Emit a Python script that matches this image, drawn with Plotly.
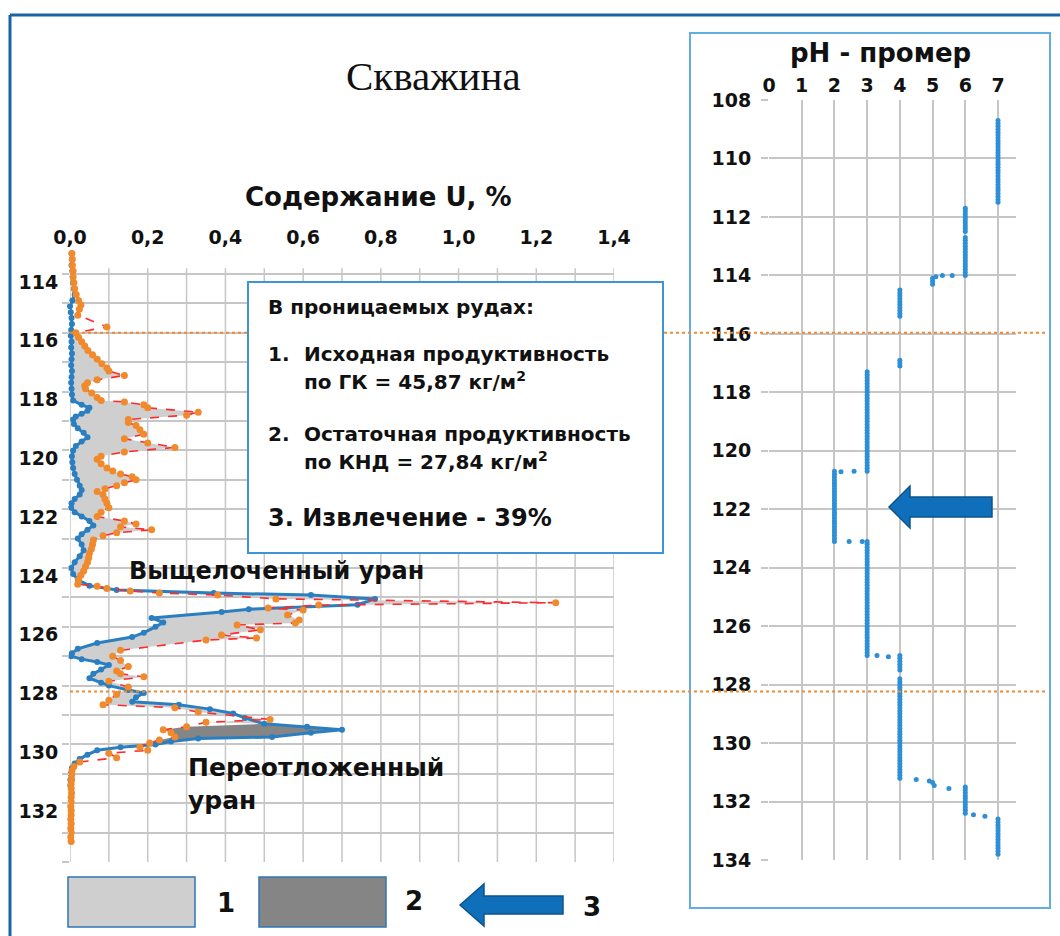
import numpy as np
import plotly.graph_objects as go

# Содержание U по глубине: ГК (исходное) и КНД (остаточное)
gk_depth = [113.3, 113.5, 113.7, 113.9, 114.1, 114.3, 114.5, 114.7, 114.9, 115.1,
            115.3, 115.5, 115.7, 115.9, 116.1, 116.3, 116.5, 116.7, 116.9, 117.1,
            117.3, 117.5, 117.7, 117.9, 118.1, 118.3, 118.45, 118.55, 118.65, 118.75,
            118.85, 118.95, 119.1, 119.25, 119.4, 119.55, 119.7, 119.85, 120.0, 120.2,
            120.4, 120.6, 120.8, 121.0, 121.2, 121.35, 121.5, 121.65, 121.8, 121.95,
            122.1, 122.25, 122.4, 122.55, 122.7, 122.85, 123.0, 123.2, 123.4, 123.6,
            123.8, 124.0, 124.2, 124.4, 124.6, 124.75, 124.85, 124.92, 125.05, 125.25,
            125.4, 125.5, 125.7, 125.85, 126.0, 126.2, 126.35, 126.55, 126.75, 126.9,
            127.0, 127.1, 127.2, 127.3, 127.45, 127.6, 127.75, 127.9, 128.0, 128.15,
            128.25, 128.4, 128.55, 128.65, 128.8, 128.95, 129.1, 129.3, 129.4, 129.5,
            129.6, 129.75, 129.8, 129.9, 130.0, 130.1, 130.2, 130.35, 130.5, 130.65,
            130.8, 131.0, 131.2, 131.4]
gk_u = [0.004, 0.005, 0.004, 0.006, 0.007, 0.008, 0.010, 0.012, 0.006, 0.000,
        0.002, 0.004, 0.005, 0.003, 0.002, 0.004, 0.003, 0.005, 0.004, 0.003,
        0.005, 0.004, 0.003, 0.004, 0.005, 0.008, 0.030, 0.050, 0.045, 0.030,
        0.015, 0.008, 0.010, 0.020, 0.035, 0.045, 0.030, 0.015, 0.008, 0.005,
        0.006, 0.008, 0.012, 0.018, 0.025, 0.030, 0.025, 0.012, 0.004, 0.003,
        0.012, 0.030, 0.050, 0.060, 0.045, 0.030, 0.020, 0.030, 0.035, 0.025,
        0.012, 0.003, 0.008, 0.020, 0.050, 0.120, 0.370, 0.620, 0.785, 0.740,
        0.460, 0.390, 0.210, 0.240, 0.220, 0.190, 0.160, 0.070, 0.020, 0.005,
        0.003, 0.030, 0.070, 0.100, 0.080, 0.060, 0.050, 0.080, 0.100, 0.150,
        0.190, 0.170, 0.160, 0.280, 0.360, 0.420, 0.450, 0.500, 0.610, 0.700,
        0.620, 0.520, 0.330, 0.260, 0.220, 0.130, 0.070, 0.045, 0.025, 0.012,
        0.005, 0.002, 0.001, 0.001]

knd_depth = [113.3, 113.5, 113.7, 113.9, 114.1, 114.3, 114.5, 114.7, 114.9, 115.05,
             115.2, 115.4, 115.8, 116.0, 116.15, 116.3, 116.45, 116.6, 116.75, 116.9,
             117.05, 117.2, 117.3, 117.45, 117.6, 117.7, 117.8, 117.9, 118.05, 118.2,
             118.3, 118.35, 118.45, 118.55, 118.7, 118.8, 118.95, 119.05, 119.15, 119.3,
             119.45, 119.6, 119.75, 119.9, 120.05, 120.2, 120.3, 120.45, 120.6, 120.7,
             120.8, 120.9, 121.0, 121.1, 121.2, 121.3, 121.4, 121.5, 121.65, 121.8,
             121.95, 122.1, 122.25, 122.4, 122.5, 122.6, 122.7, 122.8, 122.9, 123.05,
             123.2, 123.35, 123.5, 123.65, 123.8, 123.95, 124.1, 124.25, 124.4, 124.55,
             124.62, 124.7, 124.78, 124.85, 124.92, 125.05, 125.18, 125.26, 125.36, 125.43,
             125.6, 125.77, 125.87, 125.94, 126.1, 126.28, 126.38, 126.45, 126.8, 127.0,
             127.15, 127.35, 127.5, 127.6, 127.7, 127.85, 128.05, 128.3, 128.5, 128.65,
             128.75, 128.9, 129.15, 129.25, 129.4, 129.5, 129.6, 129.75, 129.85, 129.95,
             130.1, 130.2, 130.3, 130.45, 130.6, 130.75, 130.9, 131.05, 131.2, 131.35,
             131.5, 131.65, 131.8, 131.95, 132.1, 132.25, 132.4, 132.55, 132.7, 132.85,
             133.0, 133.15, 133.3]
knd_u = [0.005, 0.006, 0.006, 0.008, 0.008, 0.010, 0.012, 0.016, 0.022, 0.028,
         0.024, 0.020, 0.095, 0.015, 0.022, 0.030, 0.038, 0.046, 0.058, 0.070,
         0.082, 0.095, 0.100, 0.140, 0.070, 0.045, 0.038, 0.040, 0.056, 0.070,
         0.080, 0.140, 0.190, 0.200, 0.330, 0.300, 0.150, 0.150, 0.170, 0.180,
         0.190, 0.140, 0.200, 0.270, 0.140, 0.080, 0.070, 0.080, 0.095, 0.110,
         0.130, 0.160, 0.170, 0.140, 0.120, 0.090, 0.070, 0.085, 0.090, 0.095,
         0.100, 0.080, 0.070, 0.140, 0.170, 0.130, 0.210, 0.120, 0.085, 0.060,
         0.058, 0.055, 0.050, 0.048, 0.045, 0.040, 0.035, 0.028, 0.022, 0.020,
         0.070, 0.095, 0.155, 0.230, 0.380, 0.530, 1.250, 0.640, 0.510, 0.600,
         0.560, 0.590, 0.580, 0.430, 0.490, 0.390, 0.480, 0.350, 0.130, 0.110,
         0.130, 0.150, 0.120, 0.130, 0.190, 0.100, 0.150, 0.120, 0.100, 0.085,
         0.270, 0.330, 0.515, 0.350, 0.300, 0.240, 0.260, 0.270, 0.230, 0.205,
         0.180, 0.200, 0.100, 0.120, 0.025, 0.010, 0.005, 0.004, 0.004, 0.003,
         0.003, 0.004, 0.003, 0.003, 0.002, 0.003, 0.003, 0.002, 0.003, 0.002,
         0.003, 0.002, 0.003]

# pH - промер
ph_depth = [108.7, 108.8, 108.9, 109.0, 109.1, 109.2, 109.3, 109.4, 109.5, 109.6,
            109.7, 109.8, 109.9, 110.0, 110.1, 110.2, 110.3, 110.4, 110.5, 110.6,
            110.7, 110.8, 110.9, 111.0, 111.1, 111.2, 111.3, 111.4, 111.5,
            111.7, 111.8, 111.9, 112.0, 112.1, 112.2, 112.3, 112.4, 112.5,
            112.7, 112.8, 112.9, 113.0, 113.1, 113.2, 113.3, 113.4, 113.5, 113.6,
            113.7, 113.8, 113.9, 114.0,
            114.0, 114.0, 114.05, 114.1, 114.2, 114.3,
            114.5, 114.6, 114.7, 114.8, 114.9, 115.0, 115.1, 115.2, 115.3, 115.4,
            116.9, 117.0, 117.1,
            117.3, 117.4, 117.5, 117.6, 117.7, 117.8, 117.9, 118.0, 118.1, 118.2,
            118.3, 118.4, 118.5, 118.6, 118.7, 118.8, 118.9, 119.0, 119.1, 119.2,
            119.3, 119.4, 119.5, 119.6, 119.7, 119.8, 119.9, 120.0, 120.1, 120.2,
            120.3, 120.4, 120.5, 120.6, 120.7,
            120.7, 120.72,
            120.7, 120.8, 120.9, 121.0, 121.1, 121.2, 121.3, 121.4, 121.5, 121.6,
            121.7, 121.8, 121.9, 122.0, 122.1, 122.2, 122.3, 122.4, 122.5, 122.6,
            122.7, 122.8, 122.9, 123.0, 123.1,
            123.1, 123.1,
            123.1, 123.2, 123.3, 123.4, 123.5, 123.6, 123.7, 123.8, 123.9, 124.0,
            124.1, 124.2, 124.3, 124.4, 124.5, 124.6, 124.7, 124.8, 124.9, 125.0,
            125.1, 125.2, 125.3, 125.4, 125.5, 125.6, 125.7, 125.8, 125.9, 126.0,
            126.1, 126.2, 126.3, 126.4, 126.5, 126.6, 126.7, 126.8, 126.9, 127.0,
            127.0, 127.05,
            127.0, 127.1, 127.2, 127.3, 127.4, 127.5,
            127.8, 127.9, 128.0, 128.1, 128.2, 128.3, 128.4, 128.5, 128.6, 128.7,
            128.8, 128.9, 129.0, 129.1, 129.2, 129.3, 129.4, 129.5, 129.6, 129.7,
            129.8, 129.9, 130.0, 130.1, 130.2, 130.3, 130.4, 130.5, 130.6, 130.7,
            130.8, 130.9, 131.0, 131.1, 131.2,
            131.25, 131.3, 131.35, 131.45, 131.55,
            131.5, 131.6, 131.7, 131.8, 131.9, 132.0, 132.1, 132.2, 132.3, 132.4,
            132.45, 132.5,
            132.6, 132.7, 132.8, 132.9, 133.0, 133.1, 133.2, 133.3, 133.4, 133.5,
            133.6, 133.7, 133.8]
ph_value = [7, 7, 7, 7, 7, 7, 7, 7, 7, 7,
            7, 7, 7, 7, 7, 7, 7, 7, 7, 7,
            7, 7, 7, 7, 7, 7, 7, 7, 7,
            6, 6, 6, 6, 6, 6, 6, 6, 6,
            6, 6, 6, 6, 6, 6, 6, 6, 6, 6,
            6, 6, 6, 6,
            5.6, 5.3, 5.1, 5.0, 5.0, 5.0,
            4, 4, 4, 4, 4, 4, 4, 4, 4, 4,
            4, 4, 4,
            3, 3, 3, 3, 3, 3, 3, 3, 3, 3,
            3, 3, 3, 3, 3, 3, 3, 3, 3, 3,
            3, 3, 3, 3, 3, 3, 3, 3, 3, 3,
            3, 3, 3, 3, 3,
            2.6, 2.2,
            2, 2, 2, 2, 2, 2, 2, 2, 2, 2,
            2, 2, 2, 2, 2, 2, 2, 2, 2, 2,
            2, 2, 2, 2, 2,
            2.45, 2.85,
            3, 3, 3, 3, 3, 3, 3, 3, 3, 3,
            3, 3, 3, 3, 3, 3, 3, 3, 3, 3,
            3, 3, 3, 3, 3, 3, 3, 3, 3, 3,
            3, 3, 3, 3, 3, 3, 3, 3, 3, 3,
            3.3, 3.65,
            4, 4, 4, 4, 4, 4,
            4, 4, 4, 4, 4, 4, 4, 4, 4, 4,
            4, 4, 4, 4, 4, 4, 4, 4, 4, 4,
            4, 4, 4, 4, 4, 4, 4, 4, 4, 4,
            4, 4, 4, 4, 4,
            4.5, 4.9, 5.0, 5.05, 5.5,
            6, 6, 6, 6, 6, 6, 6, 6, 6, 6,
            6.25, 6.6,
            7, 7, 7, 7, 7, 7, 7, 7, 7, 7,
            7, 7, 7]

u_ticks = [0.0, 0.2, 0.4, 0.6, 0.8, 1.0, 1.2, 1.4]
u_grid = [0.0, 0.1, 0.2, 0.3, 0.4, 0.5, 0.6, 0.7, 0.8, 0.9, 1.0, 1.1, 1.2, 1.3, 1.4]
depth_ticks = [114, 116, 118, 120, 122, 124, 126, 128, 130, 132]
ph_ticks = [0, 1, 2, 3, 4, 5, 6, 7]
leach_zone = (116.0, 129.3)     # выщелоченный уран
redep_zone = (129.3, 130.1)     # переотложенный уран
ore_bounds = [116.0, 128.2]     # границы проницаемых руд

W, H = 1060, 936
BLUE = "#2b7fc1"
ORANGE = "#f08a2c"
GRID = "#c6c6c6"
TXT = "#111111"
FONT = "DejaVu Sans"


def fx(p):
    return p / W


def fy(p):
    return 1 - p / H


gd, gu = np.array(gk_depth), np.array(gk_u)
kd, ku = np.array(knd_depth), np.array(knd_u)


def zone(lo, hi):
    g = (gd >= lo) & (gd <= hi)
    k = (kd >= lo) & (kd <= hi)
    return np.r_[gu[g], ku[k][::-1]], np.r_[gd[g], kd[k][::-1]]


fig = go.Figure()

for (lo, hi), color in [(leach_zone, "#cfcfcf"), (redep_zone, "#858585")]:
    zx, zy = zone(lo, hi)
    fig.add_trace(go.Scatter(x=zx, y=zy, fill="toself", fillcolor=color, mode="lines",
                             line=dict(width=0), hoverinfo="skip"))

fig.add_trace(go.Scatter(
    x=gk_u, y=gk_depth, mode="lines+markers", name="ГК",
    line=dict(color=BLUE, width=3), marker=dict(color=BLUE, size=6), cliponaxis=False,
))
fig.add_trace(go.Scatter(
    x=knd_u, y=knd_depth, mode="lines+markers", name="КНД",
    line=dict(color="#ff2a2a", width=1.6, dash="dash"),
    marker=dict(color=ORANGE, size=7), cliponaxis=False,
))
fig.add_trace(go.Scatter(
    x=ph_value, y=ph_depth, mode="markers", name="pH", xaxis="x2", yaxis="y2",
    marker=dict(color="#2e8fd6", size=5), cliponaxis=False,
))

tick_font = dict(family=FONT, size=19, color=TXT, weight="bold")

fig.update_layout(
    width=W, height=H,
    margin=dict(l=0, r=0, t=0, b=0, autoexpand=False),
    paper_bgcolor="white", plot_bgcolor="white",
    showlegend=False,
    separators=", ",
    font=dict(family=FONT, color=TXT),
    xaxis=dict(domain=[fx(70), fx(614)], range=[0, 1.4], side="top", anchor="y",
               automargin=False,
               tickvals=u_ticks, tickformat=".1f", showgrid=False, zeroline=False,
               ticks="", tickfont=tick_font, ticklabelstandoff=2),
    yaxis=dict(domain=[fy(862), fy(250.5)], range=[134, 113.2], anchor="x",
               automargin=False,
               tickvals=depth_ticks, showgrid=True, gridcolor=GRID, gridwidth=1.5,
               zeroline=False, ticks="outside", ticklen=7, tickcolor=GRID, tickwidth=1.5,
               tickfont=tick_font, ticklabelshift=-8,
               minor=dict(tick0=114, dtick=1, showgrid=True, gridcolor=GRID, gridwidth=1.5,
                          ticks="outside", ticklen=7, tickcolor=GRID, tickwidth=1.5)),
    xaxis2=dict(domain=[fx(769), fx(1016)], range=[0, 7.55], side="top", anchor="y2",
                automargin=False,
                tickvals=ph_ticks, showgrid=True, gridcolor=GRID, gridwidth=1.5,
                zeroline=False, ticks="", tickfont=tick_font, ticklabelstandoff=3),
    yaxis2=dict(domain=[fy(860), fy(100)], range=[134, 108], anchor="x2",
                automargin=False,
                tick0=108, dtick=2, showgrid=True, gridcolor=GRID, gridwidth=1.5,
                zeroline=False, ticks="outside", ticklen=7, tickcolor=GRID, tickwidth=1.5,
                tickfont=tick_font, ticklabelstandoff=6),
)

shapes = []
for u in u_grid:
    shapes.append(dict(type="line", xref="x", yref="y", x0=u, x1=u, y0=113.8, y1=134,
                       line=dict(color=GRID, width=1.5), layer="below"))

# рамки
shapes.append(dict(type="line", xref="paper", yref="paper", x0=fx(10), x1=1, y0=fy(15), y1=fy(15),
                   line=dict(color="#1a62a6", width=3)))
shapes.append(dict(type="line", xref="paper", yref="paper", x0=fx(10), x1=fx(10), y0=fy(15), y1=0,
                   line=dict(color="#1a62a6", width=3)))
shapes.append(dict(type="rect", xref="paper", yref="paper", x0=fx(690), x1=fx(1050),
                   y0=fy(908), y1=fy(33), line=dict(color="#62aee3", width=2)))

for d in ore_bounds:
    shapes.append(dict(type="line", xref="paper", yref="y", x0=fx(70), x1=fx(1045), y0=d, y1=d,
                       line=dict(color=ORANGE, width=2, dash="dot")))

# блок с результатами
shapes.append(dict(type="rect", xref="paper", yref="paper", x0=fx(248), x1=fx(663),
                   y0=fy(553), y1=fy(282), fillcolor="white", line=dict(color="#3d94d6", width=2)))

# легенда
shapes.append(dict(type="rect", xref="paper", yref="paper", x0=fx(68), x1=fx(195),
                   y0=fy(927), y1=fy(877), fillcolor="#cfcfcf", line=dict(color="#2f75b5", width=1.5)))
shapes.append(dict(type="rect", xref="paper", yref="paper", x0=fx(259), x1=fx(386),
                   y0=fy(927), y1=fy(877), fillcolor="#858585", line=dict(color="#2f75b5", width=1.5)))


def arrow(tip, cy, back, end, head, shaft):
    pts = [(tip, cy), (back, cy - head), (back, cy - shaft), (end, cy - shaft),
           (end, cy + shaft), (back, cy + shaft), (back, cy + head)]
    path = "M " + " L ".join(f"{fx(x):.5f},{fy(y):.5f}" for x, y in pts) + " Z"
    return dict(type="path", xref="paper", yref="paper", path=path,
                fillcolor="#0f6fba", line=dict(color="#0b558f", width=1.5))


shapes.append(arrow(889, 507, 910, 992, 21, 10))
shapes.append(arrow(460, 905, 484, 563, 21, 9))

fig.update_layout(shapes=shapes)


def label(text, x, y, size, anchor="left", family=FONT, weight="bold"):
    return dict(text=text, x=fx(x), y=fy(y), xref="paper", yref="paper",
                xanchor=anchor, yanchor="middle", showarrow=False,
                font=dict(family=family, size=size, color=TXT, weight=weight))


fig.update_layout(annotations=[
    label("Скважина", 433, 76, 41, "center", "Liberation Serif", "normal"),
    label("Содержание U, %", 378, 197, 26, "center"),
    label("pH - промер", 880, 53, 26, "center"),
    label("В проницаемых рудах:", 266, 307, 20),
    label("1.", 266, 354, 20),
    label("Исходная продуктивность", 302, 354, 20),
    label("по ГК = 45,87 кг/м<sup>2</sup>", 302, 381, 20),
    label("2.", 266, 434, 20),
    label("Остаточная продуктивность", 302, 434, 20),
    label("по КНД = 27,84 кг/м<sup>2</sup>", 302, 461, 20),
    label("3. Извлечение - 39%", 266, 518, 24),
    label("Выщелоченный уран", 127, 571, 24),
    label("Переотложенный", 186, 767, 25),
    label("уран", 186, 800, 25),
    label("1", 226, 903, 26, "center"),
    label("2", 414, 901, 26, "center"),
    label("3", 592, 907, 26, "center"),
])

fig.write_html("out.html", config={"displayModeBar": False},
               post_script="document.body.style.margin='0';document.body.style.overflow='hidden';")
